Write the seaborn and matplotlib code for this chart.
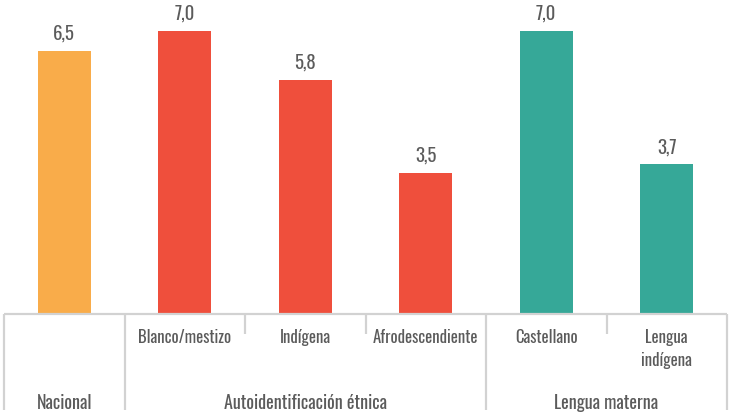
import matplotlib
matplotlib.use("Agg")
import matplotlib.pyplot as plt
import matplotlib.transforms as mtransforms
import seaborn as sns
import pandas as pd

# Data
categorias = ["Nacional", "Blanco/mestizo", "Indígena", "Afrodescendiente", "Castellano", "Lengua\nindígena"]
valores = [6.5, 7.0, 5.8, 3.5, 7.0, 3.7]
grupos = ["Nacional", "Autoidentificación étnica", "Lengua materna"]
colores = ["#F9AC4A", "#EF4F3C", "#EF4F3C", "#EF4F3C", "#36A898", "#36A898"]

sns.set_theme(style="white")
plt.rcParams["font.family"] = ["Oswald", "Pathway Gothic One", "Roboto Condensed", "DejaVu Sans"]
plt.rcParams["font.weight"] = "light"

TXT = "#5b5b5b"
LINE = "#d2d2d2"

df = pd.DataFrame({"cat": categorias, "val": valores})

fig = plt.figure(figsize=(7.3, 4.15), dpi=100)
ax = fig.add_axes([4 / 730, 101 / 415, 723 / 730, 314 / 415])

sns.barplot(data=df, x="cat", y="val", hue="cat", palette=colores,
            width=0.44, legend=False, ax=ax, saturation=1, linewidth=0)

ax.set_xlim(-0.5, 5.5)
ax.set_ylim(0, 7.77)
for s in ax.spines.values():
    s.set_visible(False)
ax.set_xticks([])
ax.set_yticks([])
ax.set_xlabel("")
ax.set_ylabel("")

# Value labels above bars
for cont in ax.containers:
    ax.bar_label(cont, labels=[f"{v:.1f}".replace(".", ",") for v in cont.datavalues],
                 padding=6, fontsize=13.5, color=TXT)

# Category axis: baseline and separators (in pixel offsets below the baseline)
trans = mtransforms.blended_transform_factory(ax.transData, ax.transAxes)
px = 1 / 314  # one pixel in axes fraction units
ax.plot([-0.5, 5.5], [0, 0], transform=trans, color=LINE, lw=1.6, clip_on=False,
        solid_capstyle="butt")
for xpos, largo in [(-0.5, 96), (0.5, 96), (1.5, 20), (2.5, 20), (3.5, 96), (4.5, 20), (5.5, 96)]:
    ax.plot([xpos, xpos], [0, -largo * px], transform=trans, color=LINE, lw=1.6,
            clip_on=False, solid_capstyle="butt")

# Sub-category labels
for i, c in enumerate(categorias):
    if i == 0:
        continue
    ax.text(i, -15 * px, c, transform=trans, ha="center", va="top",
            fontsize=12, color=TXT, linespacing=1.45)

# Group labels
for xpos, g in zip([0, 2, 4.5], grupos):
    ax.text(xpos, -89 * px, g, transform=trans, ha="center", va="center",
            fontsize=13, color=TXT)

fig.savefig("out.png", dpi=100)
